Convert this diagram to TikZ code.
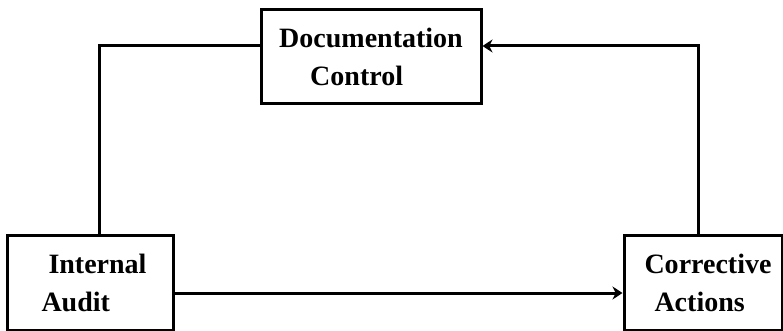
\documentclass[tikz,border=0pt]{standalone}
\usepackage{fontspec}
\setmainfont{Liberation Serif}
\usetikzlibrary{arrows.meta}
\begin{document}
\begin{tikzpicture}[x=1pt,y=-1pt,
  blk/.style={draw,line width=3pt,inner sep=0pt,align=left,
    font=\fontsize{28}{38}\selectfont\bfseries},
  link/.style={line width=3pt},
  tip/.style={-{Stealth[length=10pt,width=13pt]}}]
  \useasboundingbox (0,0) rectangle (783,331);
  % three process boxes
  \node[blk,minimum width=220pt,minimum height=94pt] (doc) at (371,57)
    {Documentation\\\hspace*{31pt}Control};
  \node[blk,minimum width=166pt,minimum height=95pt] (ia) at (90,282.5)
    {\hspace*{15pt}Internal\\\hspace*{8pt}Audit};
  \node[blk,minimum width=158pt,minimum height=95pt] (ca) at (703,282.5)
    {\hspace*{10pt}Corrective\\\hspace*{20pt}Actions};
  % corner points of the feedback loop
  \coordinate (lc) at (99,46);
  \coordinate (rc) at (698,46);
  % connectors
  \draw[link] (ia.north -| lc) -- (lc) -- (lc -| doc.west);
  \draw[link,tip] (ca.north -| rc) -- (rc) -- (rc -| doc.east);
  \draw[link,tip] (ia.east |- 0,293) -- (ca.west |- 0,293);
\end{tikzpicture}
\end{document}
